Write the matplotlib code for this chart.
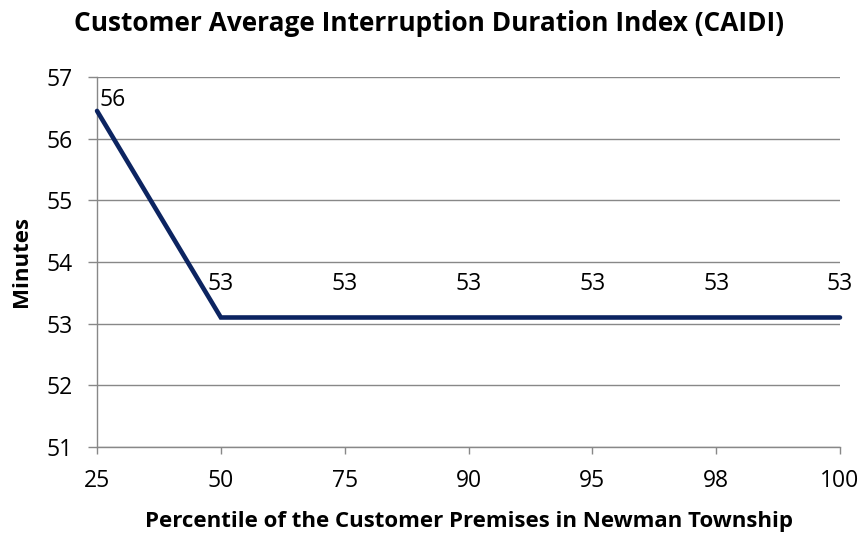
import matplotlib
matplotlib.use("Agg")
import matplotlib.pyplot as plt

plt.rcParams['font.family'] = ['Open Sans', 'DejaVu Sans']

# data
percentiles = ['25', '50', '75', '90', '95', '98', '100']
caidi = [56.45, 53.1, 53.1, 53.1, 53.1, 53.1, 53.1]
y_ticks = [51, 52, 53, 54, 55, 56, 57]

grid_col = '#888888'
line_col = '#0c2461'

fig = plt.figure(figsize=(8.61, 5.35), dpi=100)
ax = fig.add_axes([0.1127, 0.1645, 0.8629, 0.6916])

x = list(range(len(percentiles)))
ax.plot(x, caidi, color=line_col, lw=3.3, solid_capstyle='round', solid_joinstyle='miter',
        zorder=3, clip_on=False)

for i, v in enumerate(caidi):
    if i == 0:
        ax.annotate(f'{v:.0f}', (i, v), xytext=(1.5, 8), textcoords='offset points',
                    ha='left', va='center', fontsize=16.5)
    else:
        ax.annotate(f'{v:.0f}', (i, v), xytext=(0, 24), textcoords='offset points',
                    ha='center', va='center', fontsize=16.5)

ax.set_xlim(0, len(percentiles) - 1)
ax.set_ylim(51, 57)
ax.set_xticks(x)
ax.set_xticklabels(percentiles)
ax.set_yticks(y_ticks)
ax.grid(axis='y', color=grid_col, lw=1)
ax.set_axisbelow(True)

for s in ['top', 'right']:
    ax.spines[s].set_visible(False)
for s in ['left', 'bottom']:
    ax.spines[s].set_color(grid_col)
    ax.spines[s].set_linewidth(1)
ax.tick_params(axis='both', colors=grid_col, labelcolor='black', labelsize=16.5, width=1)
ax.tick_params(axis='x', length=5, pad=11)
ax.tick_params(axis='y', length=6.5, pad=11)

fig.suptitle('Customer Average Interruption Duration Index (CAIDI)', x=0.498, y=1 - 10 / 535,
             va='top', fontsize=18.9, fontweight='bold')
ax.set_xlabel('Percentile of the Customer Premises in Newman Township', fontsize=16, fontweight='bold', va='top')
ax.xaxis.set_label_coords(0.5, -0.172)
ax.set_ylabel('Minutes', fontsize=16, fontweight='bold', va='center')
ax.yaxis.set_label_coords(-0.101, 0.5)

fig.savefig('out.png', dpi=100)
